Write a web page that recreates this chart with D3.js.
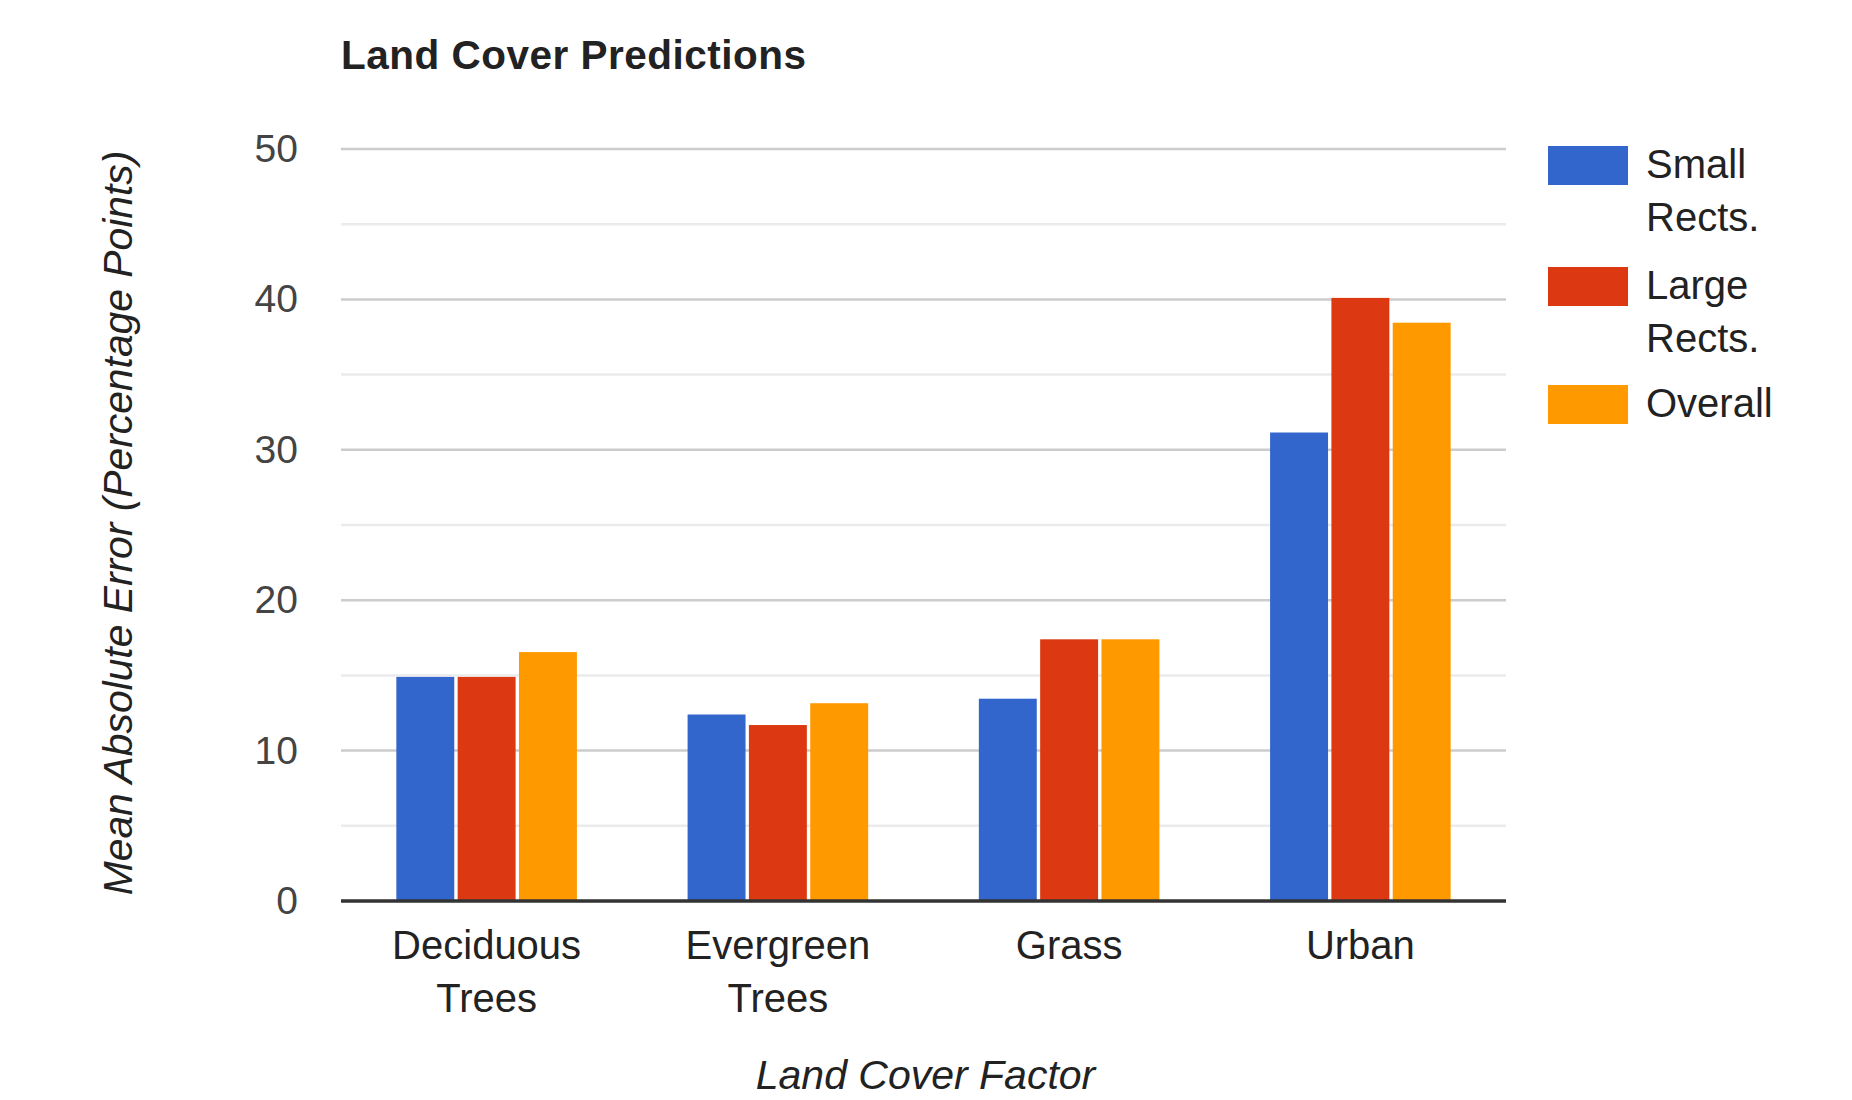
<!DOCTYPE html>
<html>
<head>
<meta charset="utf-8">
<script src="https://cdn.jsdelivr.net/npm/d3@7"></script>
<style>
  html, body { margin: 0; padding: 0; background: #fff; }
  svg { display: block; font-family: "Liberation Sans", Arial, sans-serif; }
</style>
</head>
<body>
<svg id="chart" width="1852" height="1100"></svg>
<script>
// Land cover categories (each entry is split into lines for the axis)
const categories = ["Deciduous Trees", "Evergreen Trees", "Grass", "Urban"];
const categoryLines = [["Deciduous", "Trees"], ["Evergreen", "Trees"], ["Grass"], ["Urban"]];

// Series names and mean absolute error values (percentage points)
const seriesNames = ["Small Rects.", "Large Rects.", "Overall"];
const legendLines = [["Small", "Rects."], ["Large", "Rects."], ["Overall"]];
const smallRects = [14.9, 12.4, 13.45, 31.15];
const largeRects = [14.9, 11.7, 17.4, 40.1];
const overall = [16.55, 13.15, 17.4, 38.45];

const majorTicks = [0, 10, 20, 30, 40, 50];
const minorTicks = [5, 15, 25, 35, 45];

const colors = ["#3366cc", "#dc3912", "#ff9900"];
const seriesValues = [smallRects, largeRects, overall];

const svg = d3.select("#chart");
const plot = { left: 341, right: 1506, top: 149, bottom: 901 };

const x0 = d3.scaleBand()
  .domain(categories)
  .range([plot.left, plot.right])
  .paddingInner(0.38)
  .paddingOuter(0.19);

const x1 = d3.scaleBand()
  .domain(seriesNames)
  .range([0, x0.bandwidth()])
  .paddingInner(0.055);

const y = d3.scaleLinear().domain([0, 50]).range([plot.bottom, plot.top]);

// Gridlines
svg.append("g").selectAll("line.minor")
  .data(minorTicks).join("line")
  .attr("x1", plot.left).attr("x2", plot.right)
  .attr("y1", d => y(d)).attr("y2", d => y(d))
  .attr("stroke", "#ebebeb").attr("stroke-width", 2.5);

svg.append("g").selectAll("line.major")
  .data(majorTicks.filter(d => d > 0)).join("line")
  .attr("x1", plot.left).attr("x2", plot.right)
  .attr("y1", d => y(d)).attr("y2", d => y(d))
  .attr("stroke", "#cccccc").attr("stroke-width", 2.5);

// Y axis tick labels
const yAxis = d3.axisLeft(y).tickValues(majorTicks).tickSize(0).tickPadding(0);
const gy = svg.append("g").attr("transform", `translate(${plot.left - 43},0)`).call(yAxis);
gy.select(".domain").remove();
gy.selectAll("text")
  .attr("font-size", 39)
  .attr("font-family", "Liberation Sans, Arial, sans-serif")
  .attr("fill", "#444");

// Bars
const rows = categories.map((c, i) => ({
  category: c,
  values: seriesNames.map((s, j) => ({ series: s, value: seriesValues[j][i], color: colors[j] }))
}));

svg.append("g").selectAll("g")
  .data(rows).join("g")
  .attr("transform", d => `translate(${x0(d.category)},0)`)
  .selectAll("rect")
  .data(d => d.values).join("rect")
  .attr("x", d => x1(d.series))
  .attr("width", x1.bandwidth())
  .attr("y", d => y(d.value))
  .attr("height", d => y(0) - y(d.value))
  .attr("fill", d => d.color);

// Baseline
svg.append("line")
  .attr("x1", plot.left).attr("x2", plot.right)
  .attr("y1", y(0)).attr("y2", y(0))
  .attr("stroke", "#333").attr("stroke-width", 3.5);

// X axis category labels
const xl = svg.append("g").selectAll("text")
  .data(categories).join("text")
  .attr("x", d => x0(d) + x0.bandwidth() / 2)
  .attr("y", 959)
  .attr("text-anchor", "middle")
  .attr("font-size", 40)
  .attr("fill", "#222");
xl.each(function(d, i) {
  d3.select(this).selectAll("tspan")
    .data(categoryLines[i]).join("tspan")
    .attr("x", x0(d) + x0.bandwidth() / 2)
    .attr("dy", (t, k) => k === 0 ? 0 : 53)
    .text(t => t);
});

// Title
svg.append("text")
  .attr("x", 341).attr("y", 69)
  .attr("font-size", 40.5).attr("font-weight", "bold")
  .attr("letter-spacing", 0.5)
  .attr("fill", "#222")
  .text("Land Cover Predictions");

// Axis titles
svg.append("text")
  .attr("x", (plot.left + plot.right) / 2 + 2).attr("y", 1089)
  .attr("text-anchor", "middle")
  .attr("font-size", 41).attr("font-style", "italic")
  .attr("fill", "#222")
  .text("Land Cover Factor");

svg.append("text")
  .attr("transform", `translate(132,${(plot.top + plot.bottom) / 2 - 2}) rotate(-90)`)
  .attr("text-anchor", "middle")
  .attr("font-size", 40.8).attr("font-style", "italic")
  .attr("fill", "#222")
  .text("Mean Absolute Error (Percentage Points)");

// Legend
const legendY = [146, 267, 385];
const leg = svg.append("g").selectAll("g")
  .data(seriesNames).join("g")
  .attr("transform", (d, i) => `translate(1548,${legendY[i]})`);
leg.append("rect")
  .attr("width", 80).attr("height", 39)
  .attr("fill", (d, i) => colors[i]);
leg.append("text")
  .attr("x", 98).attr("y", 32)
  .attr("font-size", 40).attr("fill", "#222")
  .each(function(d, i) {
    d3.select(this).selectAll("tspan")
      .data(legendLines[i]).join("tspan")
      .attr("x", 98)
      .attr("dy", (t, k) => k === 0 ? 0 : 53)
      .text(t => t);
  });
</script>
</body>
</html>
